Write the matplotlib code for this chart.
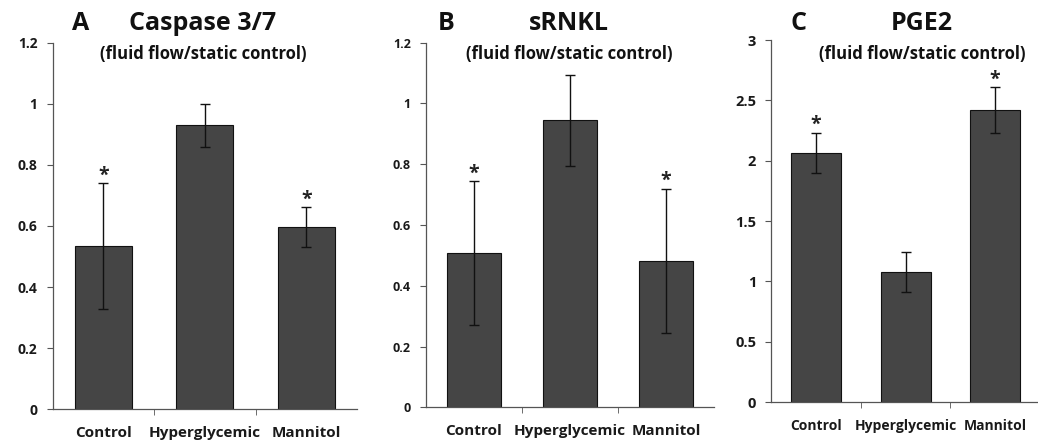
import matplotlib
matplotlib.use("Agg")
import matplotlib.pyplot as plt

categories = ["Control", "Hyperglycemic", "Mannitol"]

caspase_vals = [0.534, 0.929, 0.597]
caspase_err = [0.207, 0.071, 0.065]
caspase_sig = [True, False, True]

srnkl_vals = [0.507, 0.945, 0.482]
srnkl_err = [0.237, 0.150, 0.238]
srnkl_sig = [True, False, True]

pge2_vals = [2.065, 1.078, 2.420]
pge2_err = [0.168, 0.168, 0.193]
pge2_sig = [True, False, True]

panel_letters = ["A", "B", "C"]
panel_titles = ["Caspase 3/7", "sRNKL", "PGE2"]
subtitle = "(fluid flow/static control)"
ylims = [1.2, 1.2, 3.0]
yticks = [[0, 0.2, 0.4, 0.6, 0.8, 1.0, 1.2], [0, 0.2, 0.4, 0.6, 0.8, 1.0, 1.2], [0, 0.5, 1.0, 1.5, 2.0, 2.5, 3.0]]
yticklabels = [["0", "0.2", "0.4", "0.6", "0.8", "1", "1.2"],
               ["0", "0.2", "0.4", "0.6", "0.8", "1", "1.2"],
               ["0", "0.5", "1", "1.5", "2", "2.5", "3"]]

plt.rcParams['font.family'] = ['Open Sans', 'DejaVu Sans']
plt.rcParams['font.weight'] = 'bold'

W, H = 1038, 443
fig = plt.figure(figsize=(W / 100, H / 100), dpi=100)

# pixel boxes: left, right, top, bottom
boxes = [(52.7, 357, 42.7, 409.3), (426, 714, 42.7, 407.3), (771.3, 1040, 40, 402)]
data = [(caspase_vals, caspase_err, caspase_sig), (srnkl_vals, srnkl_err, srnkl_sig), (pge2_vals, pge2_err, pge2_sig)]
title_y = [24, 24, 24]
letter_x = [81, 446, 798]
title_cx = [203, 569, 922]
sub_y = 54
ytick_sizes = [10, 9, 10.5]
xtick_sizes = [11, 11, 10]

for i in range(3):
    l, r, t, b = boxes[i]
    ax = fig.add_axes([l / W, (H - b) / H, (r - l) / W, (b - t) / H])
    vals, errs, sig = data[i]
    x = list(range(len(categories)))
    ax.bar(x, vals, width=0.56, color="#454545", edgecolor="#111111", linewidth=0.8, zorder=2)
    ax.errorbar(x, vals, yerr=errs, fmt="none", ecolor="#111111", elinewidth=1.0, capsize=3.5, capthick=1.0, zorder=3)
    for xi, v, e, s in zip(x, vals, errs, sig):
        if s:
            ax.annotate("*", (xi, v + e), xytext=(0, -2), textcoords="offset points",
                        ha="center", va="bottom", fontsize=14, fontweight="bold", color="#222222")
    ax.set_xlim(-0.5, 2.5)
    ax.set_ylim(0, ylims[i])
    ax.set_yticks(yticks[i])
    ax.set_yticklabels(yticklabels[i], fontsize=ytick_sizes[i], fontweight="bold", color="#1a1a1a")
    ax.set_xticks(x)
    ax.set_xticklabels(categories, fontsize=xtick_sizes[i], fontweight="bold", color="#1a1a1a")
    ax.tick_params(axis="x", which="major", length=0, pad=12)
    ax.set_xticks([0.5, 1.5], minor=True)
    ax.tick_params(axis="x", which="minor", length=4, direction="out", color="#555555")
    ax.tick_params(axis="y", length=4, direction="out", color="#555555", pad=7)
    for sp in ["top", "right"]:
        ax.spines[sp].set_visible(False)
    for sp in ["left", "bottom"]:
        ax.spines[sp].set_color("#555555")
        ax.spines[sp].set_linewidth(0.9)
    ax.patch.set_alpha(0)

    fig.text(letter_x[i] / W, 1 - title_y[i] / H, panel_letters[i], ha="center", va="center",
             fontsize=18, fontweight="bold", color="#111111")
    fig.text(title_cx[i] / W, 1 - title_y[i] / H, panel_titles[i], ha="center", va="center",
             fontsize=18, fontweight="bold", color="#111111")
    fig.text(title_cx[i] / W, 1 - sub_y / H, subtitle, ha="center", va="center",
             fontsize=12, fontweight="bold", color="#111111")

fig.savefig("out.png", dpi=100)
